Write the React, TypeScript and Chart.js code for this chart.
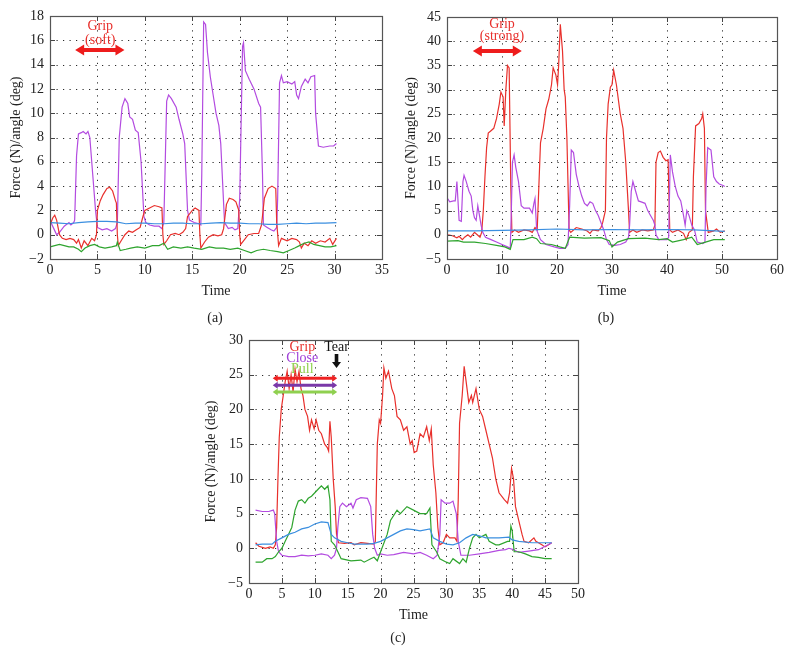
import React, { useEffect, useRef } from 'react';
import { Chart, registerables } from 'chart.js';

Chart.register(...registerables);

type Pts = [number, number][];

// ---------- Panel (a): Grip (soft) ----------
const aPurple: Pts = [
  [0.1, 1.0], [0.4, 0.5], [0.7, 0.0], [1.0, 0.2], [1.5, 0.7], [2.0, 1.0], [2.2, 0.8], [2.5, 1.0], [2.6, 1.2],
  [2.8, 6.5], [3.0, 8.3], [3.3, 8.4], [3.5, 8.5], [3.8, 8.3], [4.0, 8.5], [4.2, 8.0], [4.5, 5.0], [4.8, 2.0],
  [5.0, 0.6], [5.5, 0.4], [6.0, 0.5], [6.5, 0.3], [6.9, 0.5], [7.1, 1.0], [7.3, 8.0], [7.6, 10.5], [7.9, 11.2],
  [8.2, 10.8], [8.4, 9.7], [8.7, 9.5], [9.0, 8.6], [9.3, 8.4], [9.6, 6.0], [9.9, 1.5], [10.1, 1.0], [10.5, 0.8],
  [11.0, 0.7], [11.5, 0.7], [11.8, 0.5], [12.0, 1.0], [12.3, 11.0], [12.5, 11.5], [12.8, 11.2], [13.3, 10.5],
  [13.6, 9.5], [14.0, 8.3], [14.2, 7.5], [14.5, 2.0], [14.7, 1.2], [15.2, 1.0], [15.7, 0.9], [15.9, 0.8],
  [16.0, 5.0], [16.2, 17.5], [16.4, 17.3], [16.6, 15.0], [16.9, 13.0], [17.2, 11.5], [17.5, 10.0], [17.8, 9.0],
  [18.0, 7.5], [18.4, 1.0], [18.8, 0.5], [19.2, 0.6], [19.5, 0.4], [19.8, 0.5], [20.0, 3.0], [20.3, 15.5],
  [20.4, 15.8], [20.6, 13.5], [21.0, 12.8], [21.5, 12.0], [22.0, 10.8], [22.2, 10.5], [22.4, 5.0], [22.5, 0.8],
  [22.9, 0.6], [23.3, 0.4], [23.6, 0.3], [23.9, 0.6], [24.0, 3.0], [24.2, 12.5], [24.4, 13.1], [24.6, 12.5],
  [25.0, 12.6], [25.5, 12.4], [25.8, 12.6], [26.0, 11.5], [26.2, 11.2], [26.5, 12.2], [26.9, 12.8], [27.2, 12.5],
  [27.5, 13.0], [27.9, 13.1], [28.0, 10.0], [28.3, 7.3], [28.8, 7.2], [29.5, 7.3], [29.9, 7.3], [30.2, 7.5],
];
const aRed: Pts = [
  [0, 0.8], [0.3, 1.4], [0.5, 1.6], [0.7, 1.2], [1.0, 0], [1.3, -0.3], [1.7, -0.4], [2.1, -0.3], [2.5, -0.4],
  [2.8, -0.7], [3.0, -0.4], [3.3, -1.1], [3.6, -0.5], [4.0, -0.9], [4.4, -0.3], [4.7, -0.5], [4.9, 0], [5.0, 2.0],
  [5.3, 2.8], [5.6, 3.3], [6.0, 3.8], [6.3, 3.9], [6.6, 3.6], [6.9, 2.8], [7.0, 2.6], [7.1, 0], [7.2, -0.9],
  [7.5, -0.5], [7.9, 0], [8.3, 0.3], [8.7, 0.2], [9.1, 0.4], [9.5, 0.6], [9.8, 1.5], [10.0, 2.0], [10.5, 2.2],
  [11.0, 2.4], [11.5, 2.3], [11.8, 2.2], [11.9, 0], [12.0, -0.8], [12.3, -0.5], [12.7, 0], [13.2, 0.1], [13.6, 0],
  [14.0, 0.2], [14.3, 0.5], [14.5, 1.5], [15.0, 2.0], [15.3, 2.2], [15.7, 2.0], [15.8, 0], [15.9, -1.1],
  [16.3, -0.6], [16.7, -0.2], [17.2, 0], [17.7, -0.1], [18.1, 0], [18.3, 0.5], [18.6, 2.5], [18.9, 3.0],
  [19.3, 2.9], [19.6, 2.7], [19.9, 2.0], [20.0, 0], [20.1, -0.8], [20.4, -0.5], [20.9, 0], [21.5, 0.1], [22.0, 0.1],
  [22.3, 0.8], [22.6, 3.0], [23.0, 3.8], [23.4, 4.0], [23.8, 3.8], [23.9, 1.0], [24.1, -0.9], [24.4, -0.3],
  [25.0, -0.5], [25.5, -0.3], [26.0, -0.4], [26.3, -0.6], [26.5, -1.1], [26.8, -0.7], [27.2, -0.9], [27.6, -0.5],
  [28.0, -0.7], [28.5, -0.5], [29.0, -0.6], [29.5, -0.3], [29.8, -0.8], [30.2, -0.3],
];
const aBlue: Pts = [
  [0, 1.0], [1, 0.95], [2, 0.9], [3, 1.0], [4, 1.05], [5, 1.1], [6, 1.1], [7, 1.05], [8, 0.9], [9, 0.95],
  [10, 0.95], [11, 0.9], [12, 0.9], [13, 0.95], [14, 0.95], [15, 0.9], [16, 0.9], [17, 0.95], [18, 1.0],
  [19, 0.95], [20, 0.95], [21, 0.9], [22, 0.9], [23, 0.85], [24, 0.85], [25, 0.9], [26, 0.95], [27, 0.9],
  [28, 0.95], [29, 0.95], [30.2, 1.0],
];
const aGreen: Pts = [
  [0, -1.0], [0.5, -0.9], [1, -0.8], [1.5, -0.9], [2, -1.0], [2.5, -1.0], [3, -1.2], [3.3, -1.4], [3.7, -1.1],
  [4.2, -0.9], [4.7, -0.8], [5.2, -1.0], [5.8, -1.1], [6.5, -1.0], [7.0, -0.9], [7.1, -0.6], [7.4, -1.3],
  [8, -1.2], [8.5, -1.1], [9.2, -1.0], [10, -1.1], [10.8, -0.9], [11.5, -0.9], [12, -0.7], [12.4, -1.2],
  [13, -1.0], [13.8, -1.1], [14.5, -1.0], [15.2, -1.1], [16, -1.2], [16.8, -1.0], [17.5, -1.1], [18.3, -1.1],
  [19, -1.2], [19.8, -1.1], [20.5, -1.3], [21.2, -1.5], [21.8, -1.3], [22.5, -1.2], [23.2, -1.3], [24, -1.4],
  [24.6, -1.5], [25.2, -1.3], [25.8, -1.1], [26.3, -0.9], [26.8, -0.7], [27.3, -0.6], [27.8, -0.8], [28.4, -0.9],
  [29, -1.0], [29.6, -1.0], [30.2, -0.9],
];

// ---------- Panel (b): Grip (strong) ----------
const bRed: Pts = [
  [0.2, 0], [1, -0.2], [1.8, -0.6], [2.2, -0.3], [2.8, -1.0], [3.2, -0.5], [3.8, 0], [4.3, -0.5], [5, 0.5],
  [5.5, 0], [6, -0.5], [6.3, 0.5], [6.6, 5], [6.9, 12], [7.2, 18], [7.5, 21], [8, 21.5], [8.5, 22], [9, 24],
  [9.5, 27], [9.8, 29.5], [10.2, 28.5], [10.4, 22.5], [10.7, 30], [11.0, 35], [11.3, 34.5], [11.6, 10],
  [11.8, 0.5], [12.3, 1], [13, 0.5], [14, 1], [15, 0.8], [15.5, 0.5], [16, 1.5], [16.4, 1], [16.7, 10],
  [17, 19], [17.5, 22], [18, 26], [18.5, 28], [19, 31], [19.3, 34.5], [19.8, 33], [20.1, 31], [20.3, 35],
  [20.6, 43.5], [21.0, 38], [21.3, 30], [21.5, 28.5], [21.8, 20], [22.2, 1], [22.5, 0.5], [23, 1], [23.5, 1.5],
  [24.5, 1.2], [25.5, 0.8], [26, 0.3], [26.5, 1], [27.5, 0.8], [28, 1.5], [28.3, 2.5], [28.8, 5], [29, 20],
  [29.3, 27], [29.7, 30.5], [30, 31], [30.3, 34], [30.8, 31], [31.5, 25], [32, 22], [32.5, 15], [33, 5],
  [33.2, 0.5], [33.8, 1], [34.5, 0.5], [35.5, 1], [36.5, 0.8], [37.5, 1], [37.8, 2], [38, 15], [38.4, 17],
  [38.8, 17.3], [39.3, 16], [39.8, 15.3], [40.2, 15.5], [40.5, 1], [41, 0.5], [42, 1], [43, 0.3], [43.5, -1],
  [44, 0.5], [44.6, 1], [44.8, 12], [45.2, 22.5], [45.8, 23], [46.3, 24], [46.5, 25], [46.8, 22], [47, 5],
  [47.5, 0.5], [48.5, 0.8], [49, 1.2], [49.7, 0.5], [50.5, 0.8],
];
const bPurple: Pts = [
  [0.1, 7.5], [0.5, 6.8], [1.2, 7], [1.5, 7], [1.8, 11], [2.2, 3], [2.6, 2.8], [2.9, 11], [3.1, 12.3],
  [3.5, 11], [4, 9], [4.4, 8], [4.7, 5], [5, 3.5], [5.3, 3], [5.6, 6], [5.9, 4], [6.2, 2], [6.5, 0.5],
  [7, -0.5], [8, -1], [9, -1.5], [10, -2], [11, -2.5], [11.5, -2.8], [11.7, 5], [11.9, 15], [12.2, 16.5],
  [12.5, 14], [13, 11], [13.5, 6], [14, 5.5], [15, 5.5], [15.5, 4.5], [15.8, 6.5], [16, 7.5], [16.3, 1],
  [17, -1], [18, -2], [19.5, -2.5], [20.5, -2.8], [21.5, -2.8], [22, -2], [22.3, 6], [22.6, 17.5], [23, 17],
  [23.5, 12.5], [24, 10], [24.5, 8], [25, 6.5], [25.5, 6], [26, 6.8], [26.5, 6.5], [27, 5], [27.5, 4],
  [28, 2.5], [28.5, 1], [29, -1], [29.5, -2], [30.5, -2.2], [31.5, -2], [32.5, -1.5], [33, -0.5], [33.2, 2],
  [33.5, 9], [33.8, 11], [34.3, 9], [34.8, 7], [35.3, 6.8], [36, 6.5], [36.5, 5], [37, 4], [37.5, 3],
  [37.8, 2], [38, 0], [38.5, -1], [40, -1], [40.3, -0.5], [40.6, 16.5], [41, 13], [41.5, 10], [42, 8],
  [42.5, 7], [43, 4], [43.3, 2], [43.6, 5], [44, 4], [44.5, 2], [45, 1], [45.5, -1.5], [46.5, -1.8],
  [46.9, -1.5], [47.1, 10], [47.4, 18], [48, 17.5], [48.5, 12], [49, 11], [49.5, 10.5], [50.2, 10.2], [50.5, 10],
];
const bBlue: Pts = [
  [0, 0.8], [5, 0.8], [10, 0.9], [15, 1.0], [20, 1.2], [25, 1.0], [30, 1.1], [35, 1.0], [40, 1.1], [45, 1.0],
  [50.5, 0.7],
];
const bGreen: Pts = [
  [0, -1.3], [2, -1.2], [3, -1.5], [5, -1.5], [7, -1.8], [9, -2.2], [10.5, -2.5], [11.5, -3], [12, -1],
  [14, -1], [15.5, -0.5], [16.3, -0.8], [17, -1.8], [19, -2], [20.5, -2.5], [21.5, -2.8], [22.3, -0.5],
  [25, -0.7], [28, -0.6], [29.5, -1.2], [30, -2.5], [31, -1.5], [33, -0.8], [36, -0.7], [38.5, -1],
  [40, -0.8], [41, -1.5], [43, -1], [44.5, -0.5], [45.5, -2], [47, -1.5], [48.5, -1], [50.5, -1],
];

// ---------- Panel (c): Grip / Close / Pull ----------
const cRed: Pts = [
  [1, 0.8], [1.5, 0.3], [2.5, 0], [3.2, 0.2], [3.7, 0], [4, 0.5], [4.2, 3], [4.4, 10], [4.6, 16], [4.9, 20],
  [5.2, 22], [5.5, 24], [5.8, 25.5], [6.1, 23], [6.4, 25], [6.7, 22.5], [7, 25.8], [7.3, 24], [7.6, 25.5],
  [7.9, 23], [8.2, 22], [8.5, 20], [8.9, 19], [9.2, 17], [9.5, 18.5], [9.9, 17.2], [10.2, 18.5], [10.6, 17],
  [11, 16.5], [11.5, 15], [11.9, 14.5], [12.1, 14], [12.3, 18.3], [12.5, 16], [12.8, 10], [13.1, 6], [13.3, 2],
  [13.6, 0.8], [14.5, 0.7], [15.5, 0.8], [16, 0.5], [17, 0.8], [18, 0.7], [19, 0.6], [19.2, 1], [19.5, 15],
  [19.8, 18.5], [20, 18], [20.3, 22], [20.5, 26], [20.8, 24.5], [21.2, 25.5], [21.7, 23], [22.1, 22], [22.5, 19],
  [23, 18.5], [23.5, 17], [24, 17.5], [24.5, 15], [24.8, 15.5], [25.1, 13.8], [25.5, 14], [26, 16.5],
  [26.5, 16], [27, 17.5], [27.4, 15.5], [27.7, 17.2], [28, 12], [28.4, 8], [28.7, 3], [29, 0.5], [29.5, 0.8],
  [30, 2], [30.5, 1.5], [31.3, 1.5], [31.6, 1], [31.8, 7], [32, 18], [32.4, 22], [32.7, 26.2], [33, 24],
  [33.4, 21], [33.8, 22], [34, 21], [34.5, 23], [35, 20], [35.5, 19], [36, 17], [36.5, 15], [37, 13],
  [37.5, 10], [38, 8], [38.8, 7], [39.3, 6.5], [39.6, 8], [39.9, 11.5], [40.2, 10], [40.5, 6], [41, 4],
  [41.5, 2], [41.8, 1], [42.5, 0.8], [43.3, 1.5], [43.6, 1], [44, 0.8], [44.5, 0.5], [45, 0.2], [45.5, 0.5],
  [46, 0.8],
];
const cPurple: Pts = [
  [1, 5.5], [2, 5.3], [3, 5.3], [3.7, 5.5], [3.9, 5], [4.2, 1], [4.5, -0.5], [5, -1], [6, -1.2], [7, -1.2],
  [8, -1], [9, -1.1], [10, -1], [11, -0.8], [12, -1], [12.5, -1.5], [13, -1], [13.3, 0], [13.5, 3], [13.8, 6],
  [14.2, 6.5], [14.8, 6], [15.5, 6.5], [15.8, 5.8], [16.3, 7], [17, 7.3], [18, 7.2], [18.5, 6], [18.8, 2],
  [19.1, 0], [19.5, -1], [20, -0.8], [21, -1], [22, -0.9], [23.5, -0.6], [25, -0.8], [26, -0.6], [27, -1.0],
  [28, -1.5], [28.6, -1], [29, 2], [29.2, 7], [29.8, 6.5], [30.5, 6.5], [31, 6.8], [31.5, 5], [31.8, 1],
  [32.2, -1], [33.5, -1], [35, -0.8], [36.5, -0.6], [38, -0.3], [39, -0.2], [39.5, 0], [40.2, -0.2],
  [41, -0.6], [42.5, -0.4], [44, -0.2], [45, 0.3], [45.5, 0.5], [46, 0.8],
];
const cGreen: Pts = [
  [1, -2], [2, -2], [2.7, -1.5], [3.5, -1.5], [4, -1.2], [4.5, -0.5], [5, 0], [5.5, 1], [6, 2], [6.5, 3],
  [7, 5.5], [7.5, 6.8], [8, 7], [8.5, 6.5], [9, 7.2], [9.5, 7.5], [10, 8], [10.5, 8.5], [11, 9], [11.5, 8.5],
  [12, 9], [12.3, 7], [12.5, 1], [13, 0.5], [13.5, -0.5], [14, -1.5], [15.5, -1.8], [17, -1.7], [17.5, -2],
  [18.5, -1.5], [19, -1.3], [19.5, -1.8], [20, -0.5], [21, 2], [21.5, 4], [22.5, 5.5], [23, 5], [24, 6],
  [25, 5.5], [26, 5], [27, 5], [27.5, 5.8], [27.8, 0.5], [28.5, -0.5], [29, -1.5], [30, -2], [30.5, -2.2],
  [31, -1.5], [32, -2.2], [32.5, -1.5], [33, -2], [33.5, 0], [34, 1.5], [34.5, 2], [35, 1.5], [36, 2],
  [36.5, 1], [37.5, 0.5], [38, 0.5], [39.3, 1], [39.6, 1], [39.8, 3.2], [40, 2.5], [40.3, -0.5], [41, -0.5],
  [42, -0.8], [43, -1.2], [44, -1.3], [45, -1.5], [46, -1.5],
];
const cBlue: Pts = [
  [1, 0.5], [2, 0.6], [3.5, 0.6], [4, 1], [5, 1.5], [6, 2], [7, 2.3], [8, 2.8], [9, 3], [10, 3.5], [11, 3.8],
  [12, 3.7], [12.5, 2], [13, 1.5], [14, 1], [15, 0.8], [16, 0.6], [18, 0.6], [19, 0.7], [20, 1], [21, 1.5],
  [22, 2], [23, 2.5], [24, 2.8], [25, 2.7], [26, 2.5], [27.5, 2.8], [28, 1.5], [29, 1], [30, 0.6], [31, 0.5],
  [32, 0.8], [33, 1.5], [34, 2], [35, 1.8], [36, 1.5], [38, 1.5], [39.5, 1.6], [40, 1.2], [41, 1], [43, 0.8],
  [46, 0.8],
];

const RED = '#e8302c';
const PURPLE = '#b34be0';
const BLUE = '#3b8fe0';
const GREEN = '#2ea42e';
const FONT = '"Liberation Serif", "Times New Roman", serif';

interface Arrow { x1: number; x2: number; y: number; color: string; w: number; hl: number; hh: number; }
interface Label { x: number; y: number; text: string; color: string; }
interface Down { x: number; y1: number; y2: number; color: string; }

interface PanelProps {
  left: number; top: number; width: number; height: number;
  series: { data: Pts; color: string }[];
  xMax: number; xStep: number; yMin: number; yMax: number; yStep: number;
  pad: { left: number; top: number; right: number; bottom: number };
  yAxisW: number; xAxisH: number;
  arrows: Arrow[]; labels: Label[]; downs: Down[];
}

function Panel(p: PanelProps) {
  const ref = useRef<HTMLCanvasElement | null>(null);
  useEffect(() => {
    if (!ref.current) return;
    const gridPlugin = {
      id: 'gridDots',
      beforeDatasetsDraw(chart: any) {
        const { ctx, chartArea: a, scales } = chart;
        const xs = scales.x, ys = scales.y;
        ctx.save();
        ctx.strokeStyle = '#2a2a2a';
        ctx.lineWidth = 1;
        ctx.setLineDash([1.2, 5.3]);
        for (const t of xs.ticks) {
          const px = Math.round(xs.getPixelForValue(t.value)) + 0.5;
          if (px <= a.left + 2 || px >= a.right - 2) continue;
          ctx.beginPath(); ctx.moveTo(px, a.bottom); ctx.lineTo(px, a.top); ctx.stroke();
        }
        for (const t of ys.ticks) {
          const py = Math.round(ys.getPixelForValue(t.value)) + 0.5;
          if (py <= a.top + 2 || py >= a.bottom - 2) continue;
          ctx.beginPath(); ctx.moveTo(a.left, py); ctx.lineTo(a.right, py); ctx.stroke();
        }
        ctx.restore();
      },
      afterDraw(chart: any) {
        const { ctx, chartArea: a, scales } = chart;
        const xs = scales.x, ys = scales.y;
        ctx.save();
        ctx.setLineDash([]);
        ctx.strokeStyle = '#444';
        ctx.lineWidth = 1;
        const tl = 5;
        for (const t of xs.ticks) {
          const px = Math.round(xs.getPixelForValue(t.value)) + 0.5;
          ctx.beginPath();
          ctx.moveTo(px, a.bottom); ctx.lineTo(px, a.bottom - tl);
          ctx.moveTo(px, a.top); ctx.lineTo(px, a.top + tl);
          ctx.stroke();
        }
        for (const t of ys.ticks) {
          const py = Math.round(ys.getPixelForValue(t.value)) + 0.5;
          ctx.beginPath();
          ctx.moveTo(a.left, py); ctx.lineTo(a.left + tl, py);
          ctx.moveTo(a.right, py); ctx.lineTo(a.right - tl, py);
          ctx.stroke();
        }
        ctx.strokeStyle = '#555';
        ctx.lineWidth = 1.2;
        ctx.strokeRect(Math.round(a.left) + 0.5, Math.round(a.top) + 0.5, Math.round(a.right - a.left), Math.round(a.bottom - a.top));

        for (const ar of p.arrows) {
          const x1 = xs.getPixelForValue(ar.x1), x2 = xs.getPixelForValue(ar.x2), y = ys.getPixelForValue(ar.y);
          const hw = ar.w / 2;
          ctx.fillStyle = ar.color;
          ctx.beginPath();
          ctx.moveTo(x1, y);
          ctx.lineTo(x1 + ar.hl, y - ar.hh);
          ctx.lineTo(x1 + ar.hl, y - hw);
          ctx.lineTo(x2 - ar.hl, y - hw);
          ctx.lineTo(x2 - ar.hl, y - ar.hh);
          ctx.lineTo(x2, y);
          ctx.lineTo(x2 - ar.hl, y + ar.hh);
          ctx.lineTo(x2 - ar.hl, y + hw);
          ctx.lineTo(x1 + ar.hl, y + hw);
          ctx.lineTo(x1 + ar.hl, y + ar.hh);
          ctx.closePath();
          ctx.fill();
        }
        for (const d of p.downs) {
          const x = xs.getPixelForValue(d.x), y1 = ys.getPixelForValue(d.y1), y2 = ys.getPixelForValue(d.y2);
          ctx.fillStyle = d.color;
          ctx.beginPath();
          ctx.moveTo(x - 1.8, y1);
          ctx.lineTo(x + 1.8, y1);
          ctx.lineTo(x + 1.8, y2 - 6);
          ctx.lineTo(x + 4.5, y2 - 6);
          ctx.lineTo(x, y2);
          ctx.lineTo(x - 4.5, y2 - 6);
          ctx.lineTo(x - 1.8, y2 - 6);
          ctx.closePath();
          ctx.fill();
        }
        ctx.font = `14px ${FONT}`;
        ctx.textAlign = 'center';
        ctx.textBaseline = 'middle';
        for (const l of p.labels) {
          ctx.fillStyle = l.color;
          ctx.fillText(l.text, xs.getPixelForValue(l.x), ys.getPixelForValue(l.y));
        }
        ctx.restore();
      },
    };

    const fmt = (v: any) => String(v).replace('-', '\u2212');
    const chart = new Chart(ref.current, {
      type: 'line',
      data: {
        datasets: p.series.map((s) => ({
          data: s.data.map(([x, y]) => ({ x, y })),
          borderColor: s.color,
          borderWidth: 1.2,
          pointRadius: 0,
          tension: 0,
          fill: false,
        })),
      },
      options: {
        responsive: false,
        animation: false,
        devicePixelRatio: 1,
        layout: { padding: p.pad },
        plugins: { legend: { display: false }, tooltip: { enabled: false } },
        scales: {
          x: {
            type: 'linear',
            min: 0,
            max: p.xMax,
            ticks: { stepSize: p.xStep, font: { family: FONT, size: 14 }, color: '#222', padding: 3, maxRotation: 0, autoSkip: false, callback: fmt },
            grid: { display: false, drawTicks: false },
            border: { display: false },
            title: { display: true, text: 'Time', font: { family: FONT, size: 14 }, color: '#222', padding: { top: 4, bottom: 4 } },
            afterFit: (s: any) => { s.height = p.xAxisH; },
          },
          y: {
            type: 'linear',
            min: p.yMin,
            max: p.yMax,
            ticks: { stepSize: p.yStep, font: { family: FONT, size: 14 }, color: '#222', padding: 6, autoSkip: false, callback: fmt },
            grid: { display: false, drawTicks: false },
            border: { display: false },
            title: { display: true, text: 'Force (N)/angle (deg)', font: { family: FONT, size: 14 }, color: '#222', padding: { top: 4, bottom: 4 } },
            afterFit: (s: any) => { s.width = p.yAxisW; },
          },
        },
      },
      plugins: [gridPlugin],
    } as any);
    return () => chart.destroy();
  }, []);
  return (
    <canvas
      ref={ref}
      width={p.width}
      height={p.height}
      style={{ position: 'absolute', left: p.left, top: p.top, width: p.width, height: p.height }}
    />
  );
}

const capStyle = (x: number, y: number): React.CSSProperties => ({
  position: 'absolute', left: x - 30, top: y - 9, width: 60, textAlign: 'center',
  fontFamily: FONT, fontSize: 14, color: '#222', lineHeight: '18px',
});

export default function App() {
  return (
    <div style={{ position: 'fixed', left: 0, top: 0, width: 792, height: 655, background: '#fff', overflow: 'hidden' }}>
      <Panel
        left={0} top={0} width={395} height={304}
        series={[{ data: aBlue, color: BLUE }, { data: aGreen, color: GREEN }, { data: aRed, color: RED }, { data: aPurple, color: PURPLE }]}
        xMax={35} xStep={5} yMin={-2} yMax={18} yStep={2}
        pad={{ left: 4, top: 16, right: 13, bottom: 0 }} yAxisW={46} xAxisH={45}
        arrows={[{ x1: 2.65, x2: 7.85, y: 15.2, color: '#ee1c1c', w: 4, hl: 9, hh: 5.5 }]}
        labels={[{ x: 5.3, y: 17.15, text: 'Grip', color: '#e8302c' }, { x: 5.3, y: 16.0, text: '(soft)', color: '#e8302c' }]}
        downs={[]}
      />
      <Panel
        left={396} top={0} width={396} height={304}
        series={[{ data: bBlue, color: BLUE }, { data: bGreen, color: GREEN }, { data: bPurple, color: PURPLE }, { data: bRed, color: RED }]}
        xMax={60} xStep={10} yMin={-5} yMax={45} yStep={5}
        pad={{ left: 3, top: 17, right: 15, bottom: 0 }} yAxisW={48} xAxisH={45}
        arrows={[{ x1: 4.7, x2: 13.6, y: 38.0, color: '#ee1c1c', w: 4, hl: 9, hh: 5.5 }]}
        labels={[{ x: 10.0, y: 43.5, text: 'Grip', color: '#e8302c' }, { x: 10.0, y: 41.1, text: '(strong)', color: '#e8302c' }]}
        downs={[]}
      />
      <Panel
        left={196} top={324} width={392} height={331}
        series={[{ data: cBlue, color: BLUE }, { data: cGreen, color: GREEN }, { data: cPurple, color: PURPLE }, { data: cRed, color: RED }]}
        xMax={50} xStep={5} yMin={-5} yMax={30} yStep={5}
        pad={{ left: 3, top: 16, right: 9, bottom: 27 }} yAxisW={50} xAxisH={45}
        arrows={[
          { x1: 3.6, x2: 13.4, y: 24.5, color: '#ee2222', w: 3, hl: 5, hh: 3.5 },
          { x1: 3.6, x2: 13.4, y: 23.5, color: '#7a38a8', w: 3, hl: 5, hh: 3.5 },
          { x1: 3.6, x2: 13.4, y: 22.5, color: '#8fd04f', w: 3, hl: 5, hh: 3.5 },
        ]}
        labels={[
          { x: 8.1, y: 29.0, text: 'Grip', color: '#e8302c' },
          { x: 8.1, y: 27.3, text: 'Close', color: '#a040d8' },
          { x: 8.1, y: 25.8, text: 'Pull', color: '#8fd04f' },
          { x: 13.3, y: 29.0, text: 'Tear', color: '#111' },
        ]}
        downs={[{ x: 13.3, y1: 28.0, y2: 25.95, color: '#111' }]}
      />
      <div style={capStyle(215, 318)}>(a)</div>
      <div style={capStyle(606, 318)}>(b)</div>
      <div style={capStyle(398, 638)}>(c)</div>
    </div>
  );
}
